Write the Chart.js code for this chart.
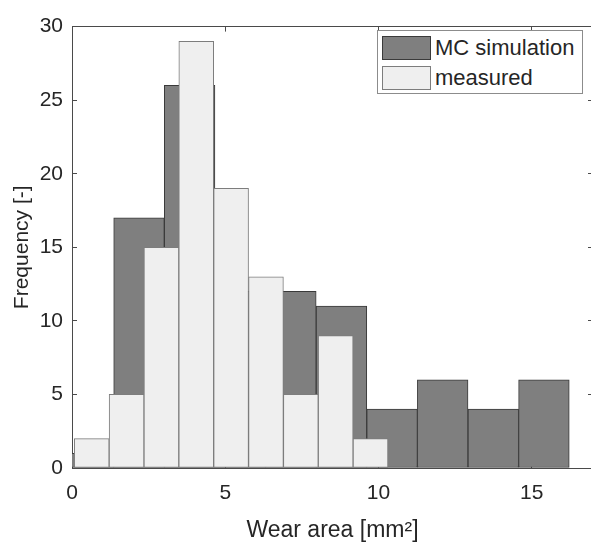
<!DOCTYPE html>
<html>
<head>
<meta charset="utf-8">
<script src="https://cdn.jsdelivr.net/npm/chart.js@4.4.1/dist/chart.umd.min.js"></script>
<style>
  html, body { margin: 0; padding: 0; background: #ffffff; overflow: hidden; }
  #wrap { position: relative; width: 600px; height: 544px; }
  #legend {
    position: absolute; left: 377px; top: 30px; width: 206px; height: 64px;
    border: 1px solid #8c8c8c; background: #ffffff; box-sizing: border-box;
    font-family: "Liberation Sans", Arial, sans-serif; font-size: 22px; color: #262626;
  }
  #legend .item { position: absolute; left: 4px; height: 25px; display: flex; align-items: center; }
  #legend .sw { width: 49px; height: 24px; box-sizing: border-box; margin-right: 4px; }
</style>
</head>
<body>
<div id="wrap">
  <canvas id="c" width="600" height="544"></canvas>
  <div id="legend"></div>
</div>
<script>
// Histogram bin edges (mm^2) and counts
const mcEdges = [-0.291, 1.361, 3.012, 4.664, 6.315, 7.967, 9.618, 11.270, 12.921, 14.573, 16.224];
const mcCounts = [1, 17, 26, 12, 12, 11, 4, 6, 4, 6];
const measEdges = [0.075, 1.212, 2.349, 3.486, 4.623, 5.761, 6.898, 8.035, 9.172, 10.309];
const measCounts = [2, 5, 15, 29, 19, 13, 5, 9, 2];
const xTicks = [0, 5, 10, 15];
const yTicks = [0, 5, 10, 15, 20, 25, 30];
const seriesNames = ['MC simulation', 'measured'];

// each bar sits at the middle of its bin
function binPoints(edges, counts) {
  return counts.map((c, i) => ({ x: (edges[i] + edges[i + 1]) / 2, y: c }));
}
// bar thickness in pixels = width of one bin on the given x scale
function binThickness(edges, scaleId) {
  return ctx => {
    const s = ctx.chart.scales[scaleId];
    return Math.abs(s.getPixelForValue(edges[1]) - s.getPixelForValue(edges[0]));
  };
}

Chart.defaults.font.family = '"Liberation Sans", Arial, sans-serif';
Chart.defaults.color = '#262626';

const axisColor = '#4a4a4a';
const inwardGrid = { display: true, drawOnChartArea: false, drawTicks: true, tickLength: -5, tickColor: axisColor, offset: false };

const chart = new Chart(document.getElementById('c'), {
  type: 'bar',
  data: {
    datasets: [
      {
        label: seriesNames[0],
        data: binPoints(mcEdges, mcCounts),
        xAxisID: 'xTop',
        backgroundColor: '#7f7f7f',
        borderColor: '#3a3a3a',
        borderWidth: 1,
        borderSkipped: false,
        grouped: false,
        barThickness: binThickness(mcEdges, 'xTop'),
        order: 2
      },
      {
        label: seriesNames[1],
        data: binPoints(measEdges, measCounts),
        xAxisID: 'x',
        backgroundColor: '#efefef',
        borderColor: '#7d7d7d',
        borderWidth: 1,
        borderSkipped: false,
        grouped: false,
        barThickness: binThickness(measEdges, 'x'),
        order: 1
      }
    ]
  },
  options: {
    responsive: false,
    animation: false,
    devicePixelRatio: 1,
    layout: { padding: { left: 0, right: 7, top: 19, bottom: 0 } },
    plugins: { legend: { display: false }, tooltip: { enabled: false } },
    scales: {
      x: {
        type: 'linear', position: 'bottom', min: 0, max: 17, offset: false,
        grid: inwardGrid,
        border: { display: true, color: axisColor, width: 1 },
        afterBuildTicks: s => { s.ticks = xTicks.map(v => ({ value: v })); },
        ticks: { font: { size: 21 }, padding: 18, maxRotation: 0, color: '#262626' },
        title: { display: true, text: 'Wear area [mm²]', font: { size: 23 }, padding: { top: 0, bottom: 0 }, color: '#262626' },
        afterFit: s => { s.height = 76; }
      },
      xTop: {
        type: 'linear', position: 'top', min: 0, max: 17, offset: false,
        grid: inwardGrid,
        border: { display: true, color: axisColor, width: 1 },
        afterBuildTicks: s => { s.ticks = xTicks.map(v => ({ value: v })); },
        ticks: { display: false },
        afterFit: s => { s.height = 0; }
      },
      y: {
        type: 'linear', position: 'left', min: 0, max: 30,
        grid: inwardGrid,
        border: { display: true, color: axisColor, width: 1 },
        afterBuildTicks: s => { s.ticks = yTicks.map(v => ({ value: v })); },
        ticks: { font: { size: 21 }, padding: 14, color: '#262626' },
        title: { display: true, text: 'Frequency [-]', font: { size: 21 }, padding: { top: 10, bottom: 0 }, color: '#262626' },
        afterFit: s => { s.width = 72; }
      },
      yRight: {
        type: 'linear', position: 'right', min: 0, max: 30,
        grid: inwardGrid,
        border: { display: true, color: axisColor, width: 1 },
        afterBuildTicks: s => { s.ticks = yTicks.map(v => ({ value: v })); },
        ticks: { display: false },
        afterFit: s => { s.width = 0; }
      }
    }
  }
});

// legend box in the upper right of the plot
const legend = document.getElementById('legend');
chart.data.datasets.forEach((ds, i) => {
  const item = document.createElement('div');
  item.className = 'item';
  item.style.top = (4 + i * 30) + 'px';
  const sw = document.createElement('span');
  sw.className = 'sw';
  sw.style.background = ds.backgroundColor;
  sw.style.border = '1px solid ' + ds.borderColor;
  const txt = document.createElement('span');
  txt.textContent = ds.label;
  item.appendChild(sw);
  item.appendChild(txt);
  legend.appendChild(item);
});
</script>
</body>
</html>
